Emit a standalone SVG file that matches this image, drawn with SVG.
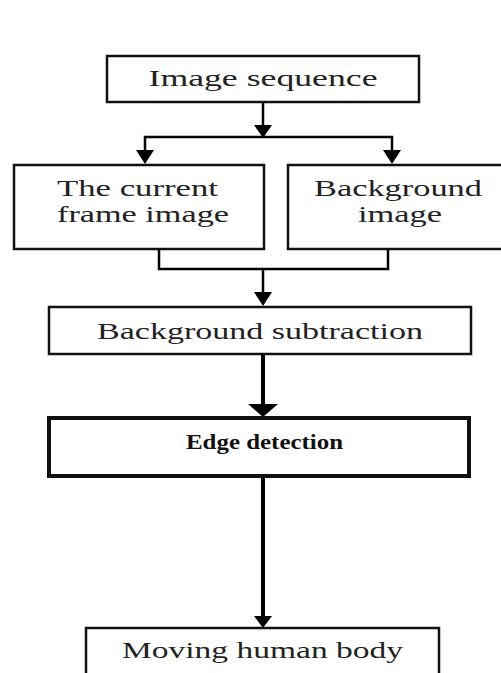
<svg xmlns="http://www.w3.org/2000/svg" width="501" height="673" viewBox="0 0 501 673">
<style>
.box{fill:#fff;stroke:#111;stroke-width:2.5}
.thick{stroke-width:4}
.t{font-family:"Liberation Serif","Times New Roman",serif;font-size:24px;fill:#222}
.b{font-weight:bold;font-size:22px;fill:#111}
.ln{fill:none;stroke:#000;stroke-width:2.5}
.ln4{fill:none;stroke:#000;stroke-width:4}
.ah{fill:#000}
</style>
<rect width="501" height="673" fill="#fff"/>
<g id="connectors">
<path class="ln" d="M263 102 V128"/>
<polygon class="ah" points="254,125 272,125 263,138"/>
<path class="ln" d="M145 152 V137 H392 V152"/>
<polygon class="ah" points="136,150 154,150 145,164"/>
<polygon class="ah" points="383,150 401,150 392,164"/>
<path class="ln" d="M159 249 V269 H388 V249"/>
<path class="ln" d="M263 269 V295"/>
<polygon class="ah" points="254,292 272,292 263,306"/>
<path class="ln4" d="M263 354 V405"/>
<polygon class="ah" points="248,404 278,404 263,417"/>
<path class="ln4" d="M263 476 V618"/>
<polygon class="ah" points="254,616 272,616 263,628"/>
</g>
<g id="image-sequence">
<rect class="box" x="107" y="56" width="312" height="46"/>
<text class="t" x="263" y="86" text-anchor="middle" textLength="229" lengthAdjust="spacingAndGlyphs">Image  sequence</text>
</g>
<g id="current-frame">
<rect class="box" x="14" y="165" width="250" height="84"/>
<text class="t" x="137.5" y="196" text-anchor="middle" textLength="161" lengthAdjust="spacingAndGlyphs">The current</text>
<text class="t" x="143" y="222" text-anchor="middle" textLength="172" lengthAdjust="spacingAndGlyphs">frame image</text>
</g>
<g id="background-image">
<rect class="box" x="288" y="165" width="240" height="84"/>
<text class="t" x="398" y="196" text-anchor="middle" textLength="168" lengthAdjust="spacingAndGlyphs">Background</text>
<text class="t" x="400" y="222" text-anchor="middle" textLength="84" lengthAdjust="spacingAndGlyphs">image</text>
</g>
<g id="background-subtraction">
<rect class="box" x="49" y="307" width="422" height="47"/>
<text class="t" x="260" y="339" text-anchor="middle" textLength="326" lengthAdjust="spacingAndGlyphs">Background subtraction</text>
</g>
<g id="edge-detection">
<rect class="box thick" x="49" y="418" width="420" height="58"/>
<text class="t b" x="264.5" y="449" text-anchor="middle" textLength="157" lengthAdjust="spacingAndGlyphs">Edge detection</text>
</g>
<g id="moving-human-body">
<rect class="box" x="86" y="628" width="353" height="50"/>
<text class="t" x="262.5" y="658" text-anchor="middle" textLength="281" lengthAdjust="spacingAndGlyphs">Moving human body</text>
</g>
</svg>
